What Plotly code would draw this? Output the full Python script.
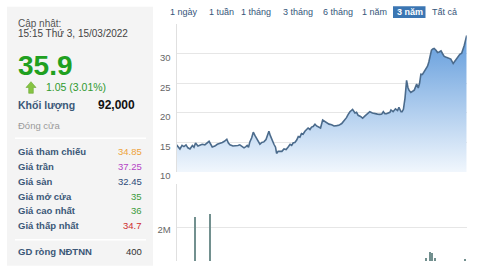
import plotly.graph_objects as go

W, H = 480, 270

# ---------------- data ----------------
price_dates = [
    "2019-03-15", "2019-03-21", "2019-03-28", "2019-04-05", "2019-04-12", "2019-04-20", "2019-04-27",
    "2019-05-05", "2019-05-14", "2019-05-20", "2019-05-26", "2019-06-04", "2019-06-12", "2019-06-20",
    "2019-06-30", "2019-07-08", "2019-07-16", "2019-07-28", "2019-08-07", "2019-08-16", "2019-08-26",
    "2019-09-04", "2019-09-12", "2019-09-21", "2019-09-27", "2019-10-03", "2019-10-14", "2019-10-24",
    "2019-11-02", "2019-11-09", "2019-11-17", "2019-11-25", "2019-12-02", "2019-12-07", "2019-12-12",
    "2019-12-17", "2019-12-24", "2019-12-30", "2020-01-05", "2020-01-11", "2020-01-18", "2020-01-24",
    "2020-01-31", "2020-02-08", "2020-02-16", "2020-02-22", "2020-02-27", "2020-03-03", "2020-03-07",
    "2020-03-13", "2020-03-17", "2020-03-23", "2020-03-27", "2020-04-02", "2020-04-09", "2020-04-16",
    "2020-04-24", "2020-05-02", "2020-05-09", "2020-05-17", "2020-05-23", "2020-05-29", "2020-06-04",
    "2020-06-11", "2020-06-17", "2020-06-23", "2020-06-29", "2020-07-05", "2020-07-12", "2020-07-18",
    "2020-07-24", "2020-07-31", "2020-08-06", "2020-08-12", "2020-08-19", "2020-08-25", "2020-08-31",
    "2020-09-09", "2020-09-17", "2020-09-24", "2020-10-02", "2020-10-11", "2020-10-21", "2020-10-30",
    "2020-11-09", "2020-11-17", "2020-11-28", "2020-12-06", "2020-12-16", "2020-12-22", "2020-12-29",
    "2021-01-08", "2021-01-17", "2021-01-23", "2021-01-29", "2021-02-07", "2021-02-15", "2021-02-22",
    "2021-03-02", "2021-03-08", "2021-03-14", "2021-03-24", "2021-04-02", "2021-04-12", "2021-04-21",
    "2021-04-28", "2021-05-04", "2021-05-10", "2021-05-16", "2021-05-23", "2021-05-29", "2021-06-02",
    "2021-06-10", "2021-06-19", "2021-06-27", "2021-07-02", "2021-07-10", "2021-07-14", "2021-07-19",
    "2021-07-25", "2021-07-31", "2021-08-05", "2021-08-09", "2021-08-16", "2021-08-23", "2021-08-29",
    "2021-09-07", "2021-09-13", "2021-09-18", "2021-09-23", "2021-09-29", "2021-10-05", "2021-10-12",
    "2021-10-18", "2021-10-23", "2021-10-27", "2021-11-02", "2021-11-07", "2021-11-12", "2021-11-19",
    "2021-11-25", "2021-12-01", "2021-12-08", "2021-12-14", "2021-12-20", "2021-12-28", "2022-01-04",
    "2022-01-14", "2022-01-23", "2022-02-01", "2022-02-11", "2022-02-17", "2022-02-24", "2022-03-06",
    "2022-03-15",
]
price_values = [
    14.6, 14.3, 13.9, 14.5, 14.3, 14.6, 14.1,
    13.9, 14.5, 14.2, 14.9, 14.4, 14.5, 14.7,
    14.6, 14.9, 15.2, 14.25, 14.4, 14.7, 14.8,
    15.0, 15.2, 15.55, 14.9, 14.6, 14.4, 14.4,
    14.5, 14.6, 14.4, 14.1, 14.3, 14.5, 14.2,
    15.1, 15.8, 16.75, 16.2, 15.7, 15.1, 14.7,
    15.0, 15.1, 15.5, 16.2, 16.9, 16.2, 15.7,
    15.2, 14.7, 14.2, 13.15, 13.5, 13.5, 13.5,
    13.9, 13.8, 14.2, 14.7, 14.5, 14.95, 15.0,
    15.4, 16.0, 15.9, 16.5, 16.4, 16.9, 17.1,
    17.45, 17.2, 17.6, 17.7, 18.1, 17.8, 17.7,
    17.45, 18.8, 18.6, 18.4, 18.1, 18.0, 17.8,
    17.85, 17.9, 18.2, 18.6, 19.2, 19.7, 20.2,
    20.6, 20.0, 20.1, 19.6, 19.4, 19.1, 19.4,
    19.75, 20.0, 20.2, 20.0, 19.85, 19.8, 19.75,
    19.8, 20.2, 19.85, 19.85, 20.0, 20.1, 20.5,
    20.2, 20.7, 20.4, 20.95, 20.2, 20.2, 20.6,
    22.5, 25.5, 24.3, 23.85, 23.45, 23.6, 23.85,
    24.9, 24.2, 25.0, 26.55, 26.5, 26.9, 27.4,
    27.9, 28.6, 29.55, 30.6, 30.8, 30.9, 30.6,
    30.2, 30.3, 30.5, 30.0, 29.55, 29.4, 29.3,
    29.1, 28.35, 28.9, 29.65, 29.9, 30.1, 31.45,
    33.1,
]

volume_dates = ["2019-05-23", "2019-07-20", "2021-10-12", "2021-10-27", "2021-11-02", "2021-11-15", "2022-03-08"]
volume_values = [2.49e6, 2.62e6, 0.62e6, 0.89e6, 0.81e6, 0.59e6, 0.56e6]

price_tickvals = [10, 15, 20, 25, 30, 35]
price_ticktext = ["10", "15", "20", "25", "30", ""]
volume_tickvals = [2e6, 4e6]
volume_ticktext = ["2M", ""]

update_label = "Cập nhật:"
update_time = "15:15 Thứ 3, 15/03/2022"
last_price = "35.9"
price_change = "1.05 (3.01%)"
volume_label = "Khối lượng"
volume_today = "92,000"
status_text = "Đóng cửa"
info_labels = ["Giá tham chiếu", "Giá trần", "Giá sàn", "Giá mở cửa", "Giá cao nhất", "Giá thấp nhất"]
info_values = ["34.85", "37.25", "32.45", "35", "36", "34.7"]
foreign_label = "GD ròng NĐTNN"
foreign_value = "400"
range_buttons = ["1 ngày", "1 tuần", "1 tháng", "3 tháng", "6 tháng", "1 năm", "3 năm", "Tất cả"]
active_button = "3 năm"

# ---------------- styling / layout ----------------
FONT = "Arial, Liberation Sans, sans-serif"
info_colors = ["#eea33a", "#b443c6", "#2d4b78", "#3b9b3b", "#3b9b3b", "#cf2e2e"]
info_y = [157, 172.5, 187.5, 203, 218, 233]
button_x = [184, 221, 255.5, 297.5, 337.5, 374, 409.5, 444]


def px(x):
    return x / W


def py(y):
    return 1 - y / H


fig = go.Figure()

fig.add_trace(go.Scatter(
    x=price_dates, y=price_values, mode="lines",
    line=dict(color="#4b6b8c", width=1.6),
    fill="tozeroy",
    fillgradient=dict(type="vertical",
                      colorscale=[[0, "rgb(246,250,254)"], [1, "rgb(98,156,220)"]],
                      start=10, stop=33),
    xaxis="x", yaxis="y", hoverinfo="skip",
))

fig.add_trace(go.Bar(
    x=volume_dates, y=volume_values, marker=dict(color="#72908f", line=dict(width=0)),
    width=5 * 86400000, xaxis="x2", yaxis="y2", hoverinfo="skip",
))

x_dom = [px(176.5), px(466.7)]
axis_font = dict(family=FONT, size=9.5, color="#666666")

fig.update_layout(
    width=W, height=H,
    margin=dict(l=0, r=0, t=0, b=0),
    paper_bgcolor="white", plot_bgcolor="white",
    showlegend=False,
    xaxis=dict(domain=x_dom, type="date", range=["2019-03-15", "2022-03-15"],
               visible=False, anchor="y"),
    yaxis=dict(domain=[py(178), py(25)], range=[10, 35],
               tickvals=price_tickvals, ticktext=price_ticktext,
               showgrid=True, gridcolor="#e6e6e6", gridwidth=1,
               showline=True, linecolor="#e0e0e0", linewidth=1,
               zeroline=False, ticks="", tickfont=axis_font,
               ticklabelshift=4, ticklabelstandoff=3, anchor="x"),
    xaxis2=dict(domain=x_dom, type="date", matches="x", visible=False, anchor="y2"),
    yaxis2=dict(domain=[0, py(190)], range=[0.444e6, 4e6],
                tickvals=volume_tickvals, ticktext=volume_ticktext,
                showgrid=True, gridcolor="#e6e6e6", gridwidth=1,
                showline=True, linecolor="#e0e0e0", linewidth=1,
                zeroline=False, ticks="", tickfont=axis_font,
                ticklabelshift=3, ticklabelstandoff=3, anchor="x2"),
    bargap=0,
)

shapes = []
# left info panel
shapes.append(dict(type="rect", xref="paper", yref="paper",
                   x0=px(7), x1=px(153), y0=py(275), y1=py(7),
                   fillcolor="#f4f4f4", line=dict(width=0), layer="below"))
for yy in (143, 248):
    shapes.append(dict(type="line", xref="paper", yref="paper",
                       x0=px(15), x1=px(146), y0=py(yy), y1=py(yy),
                       line=dict(color="#ffffff", width=1.5)))
# green up arrow
arrow = [(26, 90.5), (31, 84.5), (36, 90.5), (33.3, 90.5), (33.3, 96.5), (28.7, 96.5), (28.7, 90.5)]
path = "M " + " L ".join(f"{px(a):.5f},{py(b):.5f}" for a, b in arrow) + " Z"
shapes.append(dict(type="path", xref="paper", yref="paper", path=path,
                   fillcolor="#86c443", line=dict(color="#6aa832", width=0.6)))
# active range button
shapes.append(dict(type="rect", xref="paper", yref="paper",
                   x0=px(393), x1=px(425.5), y0=py(18.5), y1=py(6.5),
                   fillcolor="#3b76b3", line=dict(width=0)))
fig.update_layout(shapes=shapes)

ann = []


def text(x, y, s, size, color, anchor="left", bold=False):
    ann.append(dict(xref="paper", yref="paper", x=px(x), y=py(y), text=(f"<b>{s}</b>" if bold else s),
                    showarrow=False, xanchor=anchor, yanchor="middle",
                    font=dict(family=FONT, size=size, color=color)))


text(16, 24.5, update_label, 10, "#555555")
text(16, 35, update_time, 10, "#444444")
text(15.5, 68, last_price, 28, "#20a020", bold=True)
text(44, 89.5, price_change, 10.5, "#2f9a2f")
text(16, 109.5, volume_label, 10.5, "#3b5878", bold=True)
text(137, 108.5, volume_today, 12, "#111111", anchor="right", bold=True)
text(16, 130, status_text, 9.5, "#9a9a9a")
for lab, val, col, yy in zip(info_labels, info_values, info_colors, info_y):
    text(16, yy, lab, 9.5, "#3b5878", bold=True)
    text(143.5, yy, val, 9.5, col, anchor="right")
text(16, 260, foreign_label, 9.5, "#3b5878", bold=True)
text(143.5, 260, foreign_value, 9.5, "#333333", anchor="right")

for lab, xx in zip(range_buttons, button_x):
    col = "#ffffff" if lab == active_button else "#36557a"
    text(xx, 12.5, lab, 9, col, anchor="center", bold=(lab == active_button))

fig.update_layout(annotations=ann)

fig.write_html("out.html")
